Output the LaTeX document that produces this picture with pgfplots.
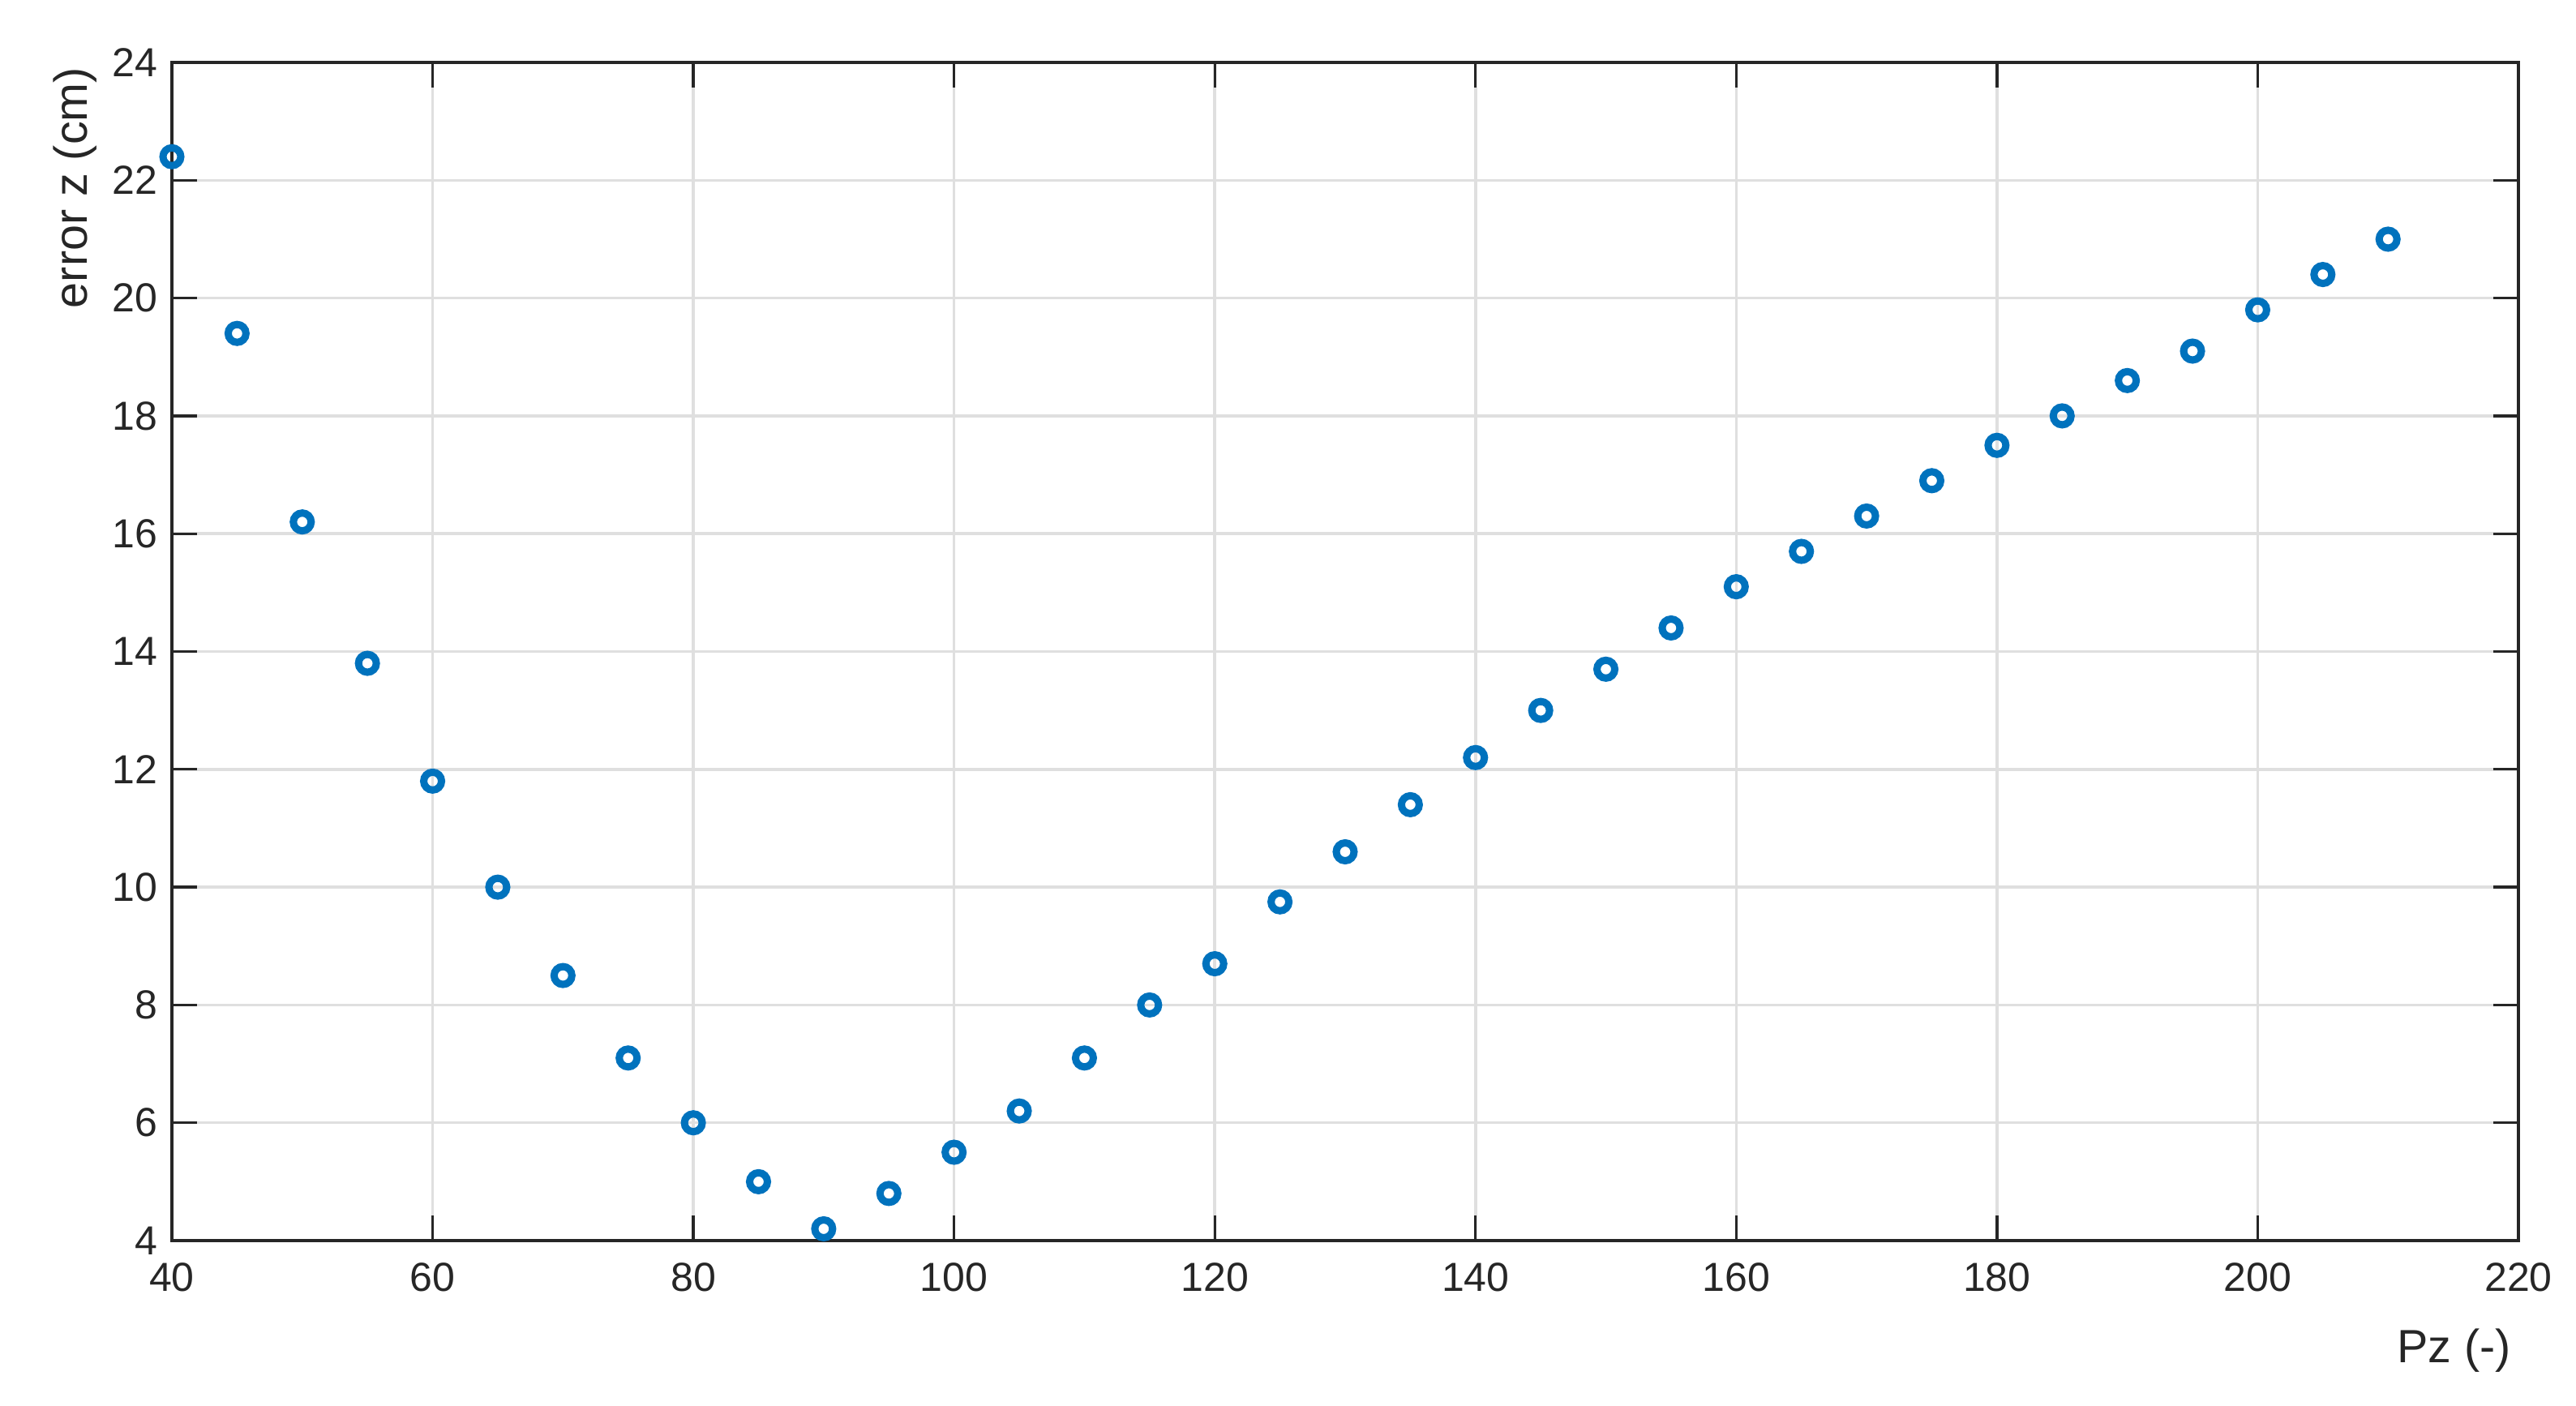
\documentclass[border=0pt]{standalone}
\usepackage{pgfplots}
\pgfplotsset{compat=1.18}
\usepackage{fontspec}
\setmainfont{Liberation Sans}
\definecolor{mblue}{RGB}{0,114,189}
\definecolor{axc}{RGB}{38,38,38}
\definecolor{gridc}{RGB}{223,223,223}
\begin{document}
\fontsize{10}{12}\selectfont
\begin{tikzpicture}
\path[use as bounding box] (-42.4pt,-40.6pt) rectangle (593pt,306pt);
\begin{axis}[
  at={(0,0)}, anchor=south west,
  scale only axis,
  width=578.8pt, height=290.6pt,
  xmin=40, xmax=220, ymin=4, ymax=24,
  xtick={40,60,...,220}, ytick={4,6,...,24},
  grid=major,
  major grid style={gridc, line width=0.7pt},
  axis line style={axc, line width=0.66pt},
  tick style={axc, line width=0.66pt},
  tick align=inside,
  major tick length=6.2pt,
  every tick label/.append style={text=axc, font=\fontsize{10}{12}\selectfont},
  /pgf/number format/assume math mode=true,
  xticklabel style={yshift=-2pt},
  xlabel={Pz (-)},
  ylabel={error z (cm)},
  label style={text=axc, font=\fontsize{11.5}{13}\selectfont},
  xlabel style={at={(rel axis cs:1,0)}, anchor=north east, inner sep=0pt, yshift=-21.6pt, xshift=-1.6pt},
  ylabel style={at={(rel axis cs:0,1)}, anchor=south east, inner sep=0pt, yshift=18.4pt, xshift=-1pt},
  clip=false,
]
\addplot[only marks, mark=o, mark size=2.2pt, mblue, mark options={line width=1.8pt}] coordinates {
(40,22.4) (45,19.4) (50,16.2) (55,13.8) (60,11.8) (65,10.0) (70,8.5) (75,7.1)
(80,6.0) (85,5.0) (90,4.2) (95,4.8) (100,5.5) (105,6.2) (110,7.1) (115,8.0)
(120,8.7) (125,9.75) (130,10.6) (135,11.4) (140,12.2) (145,13.0) (150,13.7)
(155,14.4) (160,15.1) (165,15.7) (170,16.3) (175,16.9) (180,17.5) (185,18.0)
(190,18.6) (195,19.1) (200,19.8) (205,20.4) (210,21.0)
};
\end{axis}
\end{tikzpicture}
\end{document}
